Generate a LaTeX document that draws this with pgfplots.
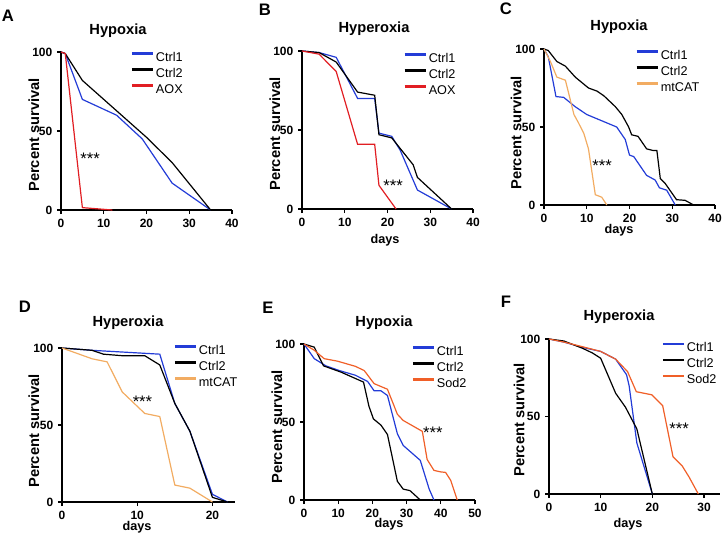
\documentclass[border=0pt]{standalone}
\usepackage{pgfplots}
\pgfplotsset{compat=1.18}
\usepackage{fontspec}
\setmainfont{Liberation Sans}

\definecolor{cblue}{RGB}{35,60,215}
\definecolor{cred}{RGB}{225,30,35}
\definecolor{corange}{RGB}{242,172,98}
\definecolor{csod}{RGB}{240,95,40}

\pgfplotsset{
  panel/.style={
    scale only axis, axis lines*=left,
    axis line style={line width=1.1pt, black},
    xmin=0, ymin=0, ymax=100, ytick={0,50,100},
    enlargelimits=false, clip=false,
    tick align=outside, major tick length=3pt,
    tick style={line width=1pt, black},
    tick label style={font=\bfseries\fontsize{9}{9}\selectfont},
    /pgf/number format/assume math mode=true,
    every axis plot/.append style={line width=0.9pt, mark=none},
    legend style={draw=none, fill=none, inner sep=0pt, row sep=3pt,
      anchor=north west, cells={anchor=west},
      font=\fontsize{9.5}{10}\selectfont,
      nodes={inner xsep=1pt, inner ysep=0pt, text height=7pt, text depth=2pt}},
    legend image code/.code={\draw[##1, line width=2.2pt] (0pt,0.33em) -- (16pt,0.33em);},
  },
}
\tikzset{stars/.style={font=\fontsize{12.5}{12.5}\selectfont, yshift=-2.5pt}}

\begin{document}
\begin{tikzpicture}
\useasboundingbox (0,0) rectangle (542.25pt,-401.25pt);

% panel labels, titles, axis labels
\tikzset{lt/.style={font=\bfseries\fontsize{12.5}{12.5}\selectfont},
  tt/.style={font=\bfseries\fontsize{11}{11}\selectfont},
  yl/.style={font=\bfseries\fontsize{11}{11}\selectfont, rotate=90},
  xl/.style={font=\bfseries\fontsize{9.5}{9.5}\selectfont}}
\node[lt] at (8*0.75pt,-16*0.75pt) {A};
\node[lt] at (265*0.75pt,-10*0.75pt) {B};
\node[lt] at (506*0.75pt,-9*0.75pt) {C};
\node[lt] at (25*0.75pt,-307*0.75pt) {D};
\node[lt] at (268*0.75pt,-308*0.75pt) {E};
\node[lt] at (506*0.75pt,-302*0.75pt) {F};
\node[tt] at (118*0.75pt,-31*0.75pt) {Hypoxia};
\node[tt] at (374*0.75pt,-29*0.75pt) {Hyperoxia};
\node[tt] at (619*0.75pt,-27*0.75pt) {Hypoxia};
\node[tt] at (128*0.75pt,-323*0.75pt) {Hyperoxia};
\node[tt] at (384*0.75pt,-323*0.75pt) {Hypoxia};
\node[tt] at (619*0.75pt,-317*0.75pt) {Hyperoxia};
\node[yl] at (34*0.75pt,-135*0.75pt) {Percent survival};
\node[yl] at (275*0.75pt,-134*0.75pt) {Percent survival};
\node[yl] at (516*0.75pt,-133*0.75pt) {Percent survival};
\node[yl] at (34*0.75pt,-431*0.75pt) {Percent survival};
\node[yl] at (277*0.75pt,-427*0.75pt) {Percent survival};
\node[yl] at (519*0.75pt,-420*0.75pt) {Percent survival};
\node[xl] at (385*0.75pt,-240*0.75pt) {days};
\node[xl] at (619*0.75pt,-230*0.75pt) {days};
\node[xl] at (137*0.75pt,-527*0.75pt) {days};
\node[xl] at (389*0.75pt,-524*0.75pt) {days};
\node[xl] at (628*0.75pt,-524*0.75pt) {days};

% A
\begin{axis}[panel, at={(61*0.75pt,-210*0.75pt)}, anchor=south west,
  width=171*0.75pt, height=158*0.75pt, xmax=40, xtick={0,10,20,30,40},
  legend style={at={(0.404,1.0)}}]
\addplot[cblue] coordinates {(0,100) (1,99) (5,70) (13,60) (19,45) (26,17) (35,0)};
\addplot[black] coordinates {(0,100) (1,99) (5,82) (20,46) (26,30) (35,0)};
\addplot[cred] coordinates {(0,100) (1,99) (5,1.5) (12,0)};
\legend{Ctrl1,Ctrl2,AOX}
\node[stars] at (axis cs:6.8,34.8) {***};
\end{axis}

% B
\begin{axis}[panel, at={(302*0.75pt,-209*0.75pt)}, anchor=south west,
  width=171*0.75pt, height=158*0.75pt, xmax=40, xtick={0,10,20,30,40},
  legend style={at={(0.59,0.987)}}]
\addplot[cblue] coordinates {(0,100) (4,99) (8,96) (13,70) (17,70) (18,48) (21,46) (23,37) (27,12) (35,0)};
\addplot[black] coordinates {(0,100) (4,99) (8,93) (13,74) (17,72) (18,47) (21,45) (26,28) (27,20) (35,0) (37,0)};
\addplot[cred] coordinates {(0,100) (4,98) (8,87) (13,41) (17,41) (18,15) (22,0)};
\legend{Ctrl1,Ctrl2,AOX}
\node[stars] at (axis cs:21.3,16.5) {***};
\end{axis}

% C
\begin{axis}[panel, at={(544*0.75pt,-205*0.75pt)}, anchor=south west,
  width=171*0.75pt, height=156*0.75pt, xmax=40, xtick={0,10,20,30,40},
  legend style={at={(0.532,0.994)}}]
\addplot[cblue] coordinates {(0,100) (1,95) (2.8,69.5) (4.6,69) (7.3,63) (10,58) (13.5,54) (17,50) (19,42) (20,32) (21,31) (24,19) (26,16) (27,11) (28.7,9.5) (30.7,0)};
\addplot[black] coordinates {(0,100) (1,99) (3,92) (5,89) (7.3,82) (10.4,75) (12.4,73) (14,70) (16.7,63) (18.2,58) (19.8,50) (20.5,45) (22,44) (24,36) (25.4,35) (26.4,35) (27.2,17) (28.3,14) (31,3.4) (33,3) (35,0)};
\addplot[corange] coordinates {(0,100) (1.5,92) (3,82) (5,80) (7,58) (8,53) (9.3,46) (10.4,36) (12,6.6) (13.5,5) (14.7,0)};
\legend{Ctrl1,Ctrl2,mtCAT}
\node[stars] at (axis cs:13.6,27) {***};
\end{axis}

% D
\begin{axis}[panel, at={(62*0.75pt,-502*0.75pt)}, anchor=south west,
  width=173*0.75pt, height=154*0.75pt, xmax=23, xtick={0,10,20},
  legend style={at={(0.642,1.02)}}]
\addplot[cblue] coordinates {(0,100) (4,98.5) (13,96) (15,64) (17,46) (20,5) (22,0)};
\addplot[black] coordinates {(0,100) (4,98.5) (5.5,96) (8,95) (11,95) (13,89) (15,64) (17,46) (20,3) (22,0)};
\addplot[corange] coordinates {(0,100) (4,93) (6,91) (8,71.5) (11,57.5) (13,55.5) (15,11) (17,9) (20,0)};
\legend{Ctrl1,Ctrl2,mtCAT}
\node[stars] at (axis cs:10.7,67.5) {***};
\end{axis}

% E
\begin{axis}[panel, at={(304*0.75pt,-500*0.75pt)}, anchor=south west,
  width=171*0.75pt, height=156*0.75pt, xmax=50, xtick={0,10,20,30,40,50},
  legend style={at={(0.626,0.987)}}]
\addplot[cblue] coordinates {(0,100) (3,90.6) (6.4,86) (10.3,83) (15,80) (18.6,76) (20.5,70) (22.5,70) (24.4,67) (27.3,42.5) (29,35) (34,25.4) (36.6,7) (38,0)};
\addplot[black] coordinates {(0,100) (3,98) (5.7,86) (10.8,82) (17.4,75.6) (19,60) (20.3,52) (22.5,48) (24.4,42) (27.3,12) (29,7) (31,6) (34,0)};
\addplot[csod] coordinates {(0,100) (3,96) (5.9,90.6) (9.8,89) (15,85.7) (17.6,83) (20.5,74.6) (24.4,71) (27.3,55) (29,51) (34.6,44) (36,26) (38,19) (40,18) (41.4,17.7) (42.9,12.6) (44.8,0)};
\legend{Ctrl1,Ctrl2,Sod2}
\node[stars] at (axis cs:37.7,45) {***};
\end{axis}

% F
\begin{axis}[panel, at={(549*0.75pt,-494*0.75pt)}, anchor=south west,
  width=170.5*0.75pt, height=155*0.75pt, xmax=33, xtick={0,10,20,30},
  legend style={at={(0.657,0.98)}}]
\addplot[cblue] coordinates {(0,100) (2.9,98) (6.5,94.6) (10,92) (12.9,87) (15,77) (15.5,70) (17,33) (20,0)};
\addplot[black] coordinates {(0,100) (2.9,98.7) (6.5,94) (8.4,91) (10,87.6) (12.9,65) (14.8,56) (17,42) (20,0)};
\addplot[csod] coordinates {(0,100) (2.9,98) (6.5,95) (10,92) (12.9,87) (15.2,79) (16.9,66) (19.9,64) (22,57) (24,24) (25.8,18) (27.1,11) (28.9,0)};
\legend{Ctrl1,Ctrl2,Sod2}
\node[stars] at (axis cs:25.2,44) {***};
\end{axis}
\end{tikzpicture}
\end{document}
